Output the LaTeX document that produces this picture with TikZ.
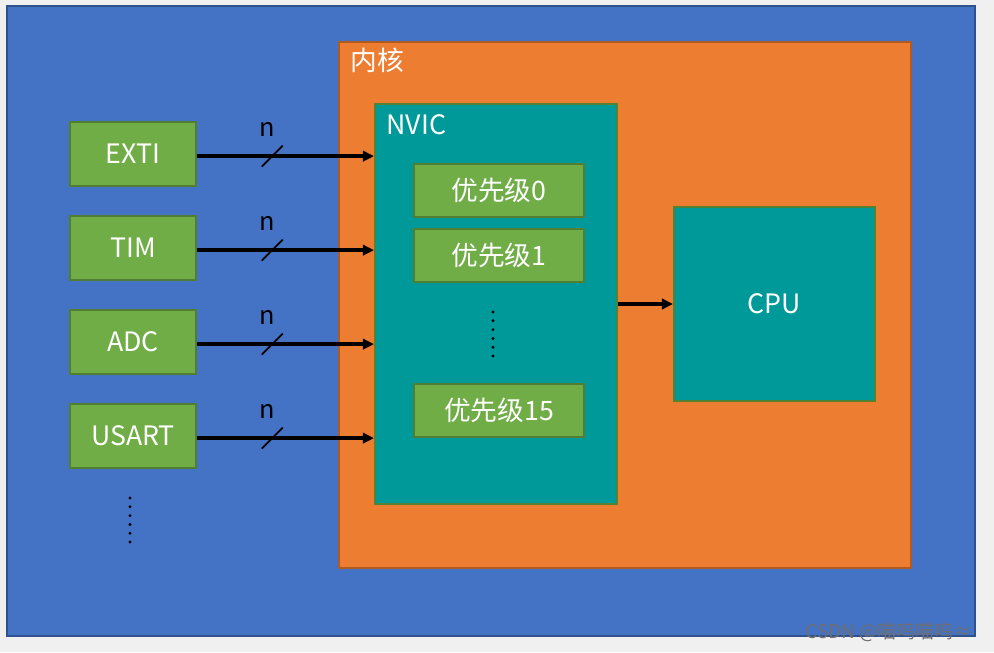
\documentclass[tikz,border=0pt]{standalone}
\usepackage{fontspec}
\setmainfont{Noto Sans CJK SC}
\usepackage{tikz}
\usetikzlibrary{arrows.meta}

\begin{document}
\begin{tikzpicture}[x = 0.025cm, y = -0.025cm, line width = 1.4pt,
    >={Triangle[length = 0.28cm, width = 0.26cm]},
    box/.style = {draw, inner sep = 0pt, text = white, font = \fontsize{19}{23}\selectfont},
    srcbox/.style = {box, fill = leafGreen, draw = leafEdge, minimum width = 3.15cm, minimum height = 1.6cm},
    prio/.style = {box, fill = leafGreen, draw = leafEdge, minimum width = 4.25cm, minimum height = 1.325cm}]
  \definecolor{bgGray}{RGB}{240, 240, 240};
  \definecolor{boardBlue}{RGB}{68, 114, 196};
  \definecolor{boardEdge}{RGB}{47, 82, 143};
  \definecolor{coreOrange}{RGB}{237, 125, 49};
  \definecolor{coreEdge}{RGB}{174, 90, 33};
  \definecolor{tealBox}{RGB}{0, 153, 153};
  \definecolor{tealEdge}{RGB}{84, 130, 53};
  \definecolor{leafGreen}{RGB}{112, 173, 71};
  \definecolor{leafEdge}{RGB}{80, 126, 50};
  \definecolor{markGray}{RGB}{110, 110, 110};

  \fill[bgGray] (0, 0) rectangle (994, 652);
  \useasboundingbox (0, 0) rectangle (994, 652);

  % containers
  \node[box, fill = boardBlue, draw = boardEdge, minimum width = 24.2cm, minimum height = 15.75cm] (chip) at (491, 321) {};
  \node[box, fill = coreOrange, draw = coreEdge, minimum width = 14.3cm, minimum height = 13.15cm] (core) at (625, 305) {};
  \node[anchor = west, text = white, font = \fontsize{19}{23}\selectfont] (coreLabel) at (345, 60) {内核};
  \node[box, fill = tealBox, draw = tealEdge, minimum width = 6.05cm, minimum height = 10cm] (nvic) at (496, 304) {};
  \node[anchor = west, text = white, font = \fontsize{19}{23}\selectfont] (nvicLabel) at (381, 125) {NVIC};

  % priorities
  \node[prio] (prio0) at (499, 190.5) {优先级0};
  \node[prio] (prio1) at (499, 255.5) {优先级1};
  \node[prio] (prio15) at (499, 410.5) {优先级15};
  \foreach \k in {0,...,5}
    \fill (493, 312 + 8.8*\k) circle (1.6);

  \node[box, fill = tealBox, draw = tealEdge, minimum width = 5.025cm, minimum height = 4.85cm] (cpu) at (774.5, 304) {CPU};
  \draw[->, line width = 2.6pt] (nvic.east) -- (cpu.west);

  % sources
  \node[srcbox] (exti) at (133, 154) {EXTI};
  \node[srcbox] (tim) at (133, 248) {TIM};
  \node[srcbox] (adc) at (133, 342) {ADC};
  \node[srcbox] (usart) at (133, 436) {USART};
  \foreach \k in {0,...,5}
    \fill (130, 498 + 8.8*\k) circle (1.6);

  \foreach \src in {exti, tim, adc, usart} {
    \draw[->, line width = 2.6pt] ([yshift = -1.5]\src.east) -- ([yshift = -1.5]\src.east -| nvic.west) coordinate[pos = 0.425] (\src-cut);
    \draw[line width = 1.2pt] ([shift = {(-10.5, 10.5)}]\src-cut) -- ([shift = {(10.5, -10.5)}]\src-cut);
    \node[font = \fontsize{18}{22}\selectfont] (\src-n) at ([shift = {(-5, -27)}]\src-cut) {n};
  }

  \node[anchor = east, text = markGray, font = \fontsize{13.5}{16}\selectfont] (mark) at (978, 632) {CSDN @喵呜喵呜≈};
\end{tikzpicture}
\end{document}
